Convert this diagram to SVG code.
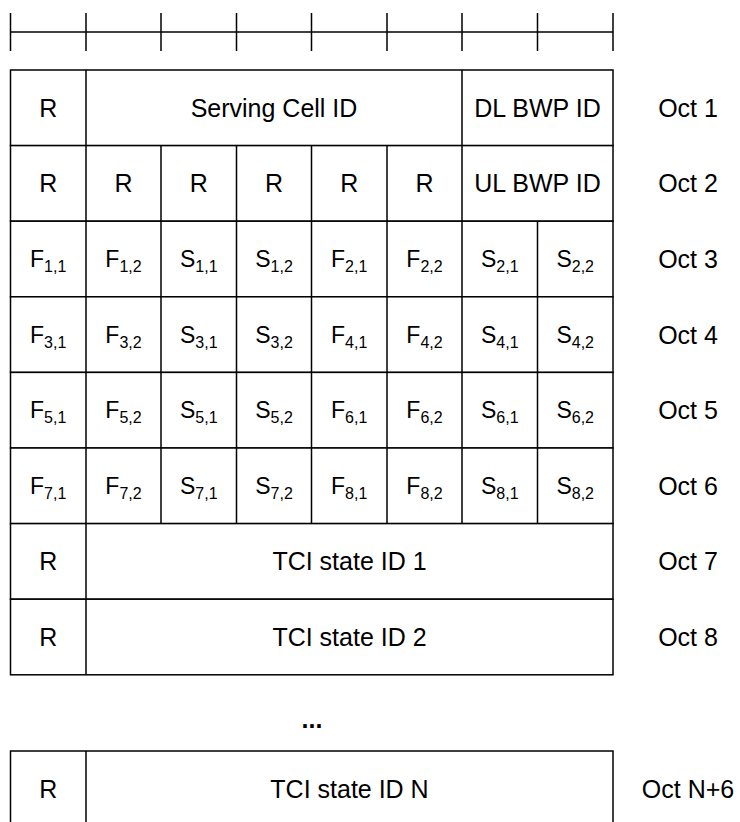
<svg xmlns="http://www.w3.org/2000/svg" width="740" height="822" viewBox="0 0 740 822">
<style>
.ln{stroke:#000;stroke-width:1.5;fill:none}
.bx{stroke:#000;stroke-width:1.5;fill:#fff}
text{font-family:"Liberation Sans",Arial,sans-serif;font-size:25px;fill:#000;text-anchor:middle}
.f{font-size:23px}
.s{font-size:16px}
.dots{font-weight:bold}
</style>
<rect width="740" height="822" fill="#fff"/>
<g id="ruler">
<line class="ln" x1="10.5" y1="32" x2="613" y2="32"/>
<path class="ln" d="M10.5 13V51M86 13V51M161 13V51M236.5 13V51M311.5 13V51M387 13V51M462 13V51M537.5 13V51M613 13V51"/>
</g>
<g id="oct1">
<rect class="bx" x="10.5" y="70" width="602.5" height="75.6"/>
<path class="ln" d="M86 70V145.6M462 70V145.6"/>
<text x="48.2" y="116.8">R</text>
<text x="274" y="116.8">Serving Cell ID</text>
<text x="537.5" y="116.8">DL BWP ID</text>
<text x="688" y="116.8">Oct 1</text>
</g>
<g id="oct2">
<rect class="bx" x="10.5" y="145.6" width="602.5" height="75.6"/>
<path class="ln" d="M86 145.6V221.2M161 145.6V221.2M236.5 145.6V221.2M311.5 145.6V221.2M387 145.6V221.2M462 145.6V221.2"/>
<text x="48.2" y="192.4">R</text>
<text x="123.5" y="192.4">R</text>
<text x="198.8" y="192.4">R</text>
<text x="274" y="192.4">R</text>
<text x="349.2" y="192.4">R</text>
<text x="424.5" y="192.4">R</text>
<text x="537.5" y="192.4">UL BWP ID</text>
<text x="688" y="192.4">Oct 2</text>
</g>
<g id="oct3">
<rect class="bx" x="10.5" y="221.2" width="602.5" height="75.6"/>
<path class="ln" d="M86 221.2V296.8M161 221.2V296.8M236.5 221.2V296.8M311.5 221.2V296.8M387 221.2V296.8M462 221.2V296.8M537.5 221.2V296.8"/>
<text class="f" x="48.2" y="267.2">F<tspan class="s" dy="5">1,1</tspan></text>
<text class="f" x="123.5" y="267.2">F<tspan class="s" dy="5">1,2</tspan></text>
<text class="f" x="198.8" y="267.2">S<tspan class="s" dy="5">1,1</tspan></text>
<text class="f" x="274" y="267.2">S<tspan class="s" dy="5">1,2</tspan></text>
<text class="f" x="349.2" y="267.2">F<tspan class="s" dy="5">2,1</tspan></text>
<text class="f" x="424.5" y="267.2">F<tspan class="s" dy="5">2,2</tspan></text>
<text class="f" x="499.8" y="267.2">S<tspan class="s" dy="5">2,1</tspan></text>
<text class="f" x="575.2" y="267.2">S<tspan class="s" dy="5">2,2</tspan></text>
<text x="688" y="268">Oct 3</text>
</g>
<g id="oct4">
<rect class="bx" x="10.5" y="296.8" width="602.5" height="75.6"/>
<path class="ln" d="M86 296.8V372.4M161 296.8V372.4M236.5 296.8V372.4M311.5 296.8V372.4M387 296.8V372.4M462 296.8V372.4M537.5 296.8V372.4"/>
<text class="f" x="48.2" y="342.8">F<tspan class="s" dy="5">3,1</tspan></text>
<text class="f" x="123.5" y="342.8">F<tspan class="s" dy="5">3,2</tspan></text>
<text class="f" x="198.8" y="342.8">S<tspan class="s" dy="5">3,1</tspan></text>
<text class="f" x="274" y="342.8">S<tspan class="s" dy="5">3,2</tspan></text>
<text class="f" x="349.2" y="342.8">F<tspan class="s" dy="5">4,1</tspan></text>
<text class="f" x="424.5" y="342.8">F<tspan class="s" dy="5">4,2</tspan></text>
<text class="f" x="499.8" y="342.8">S<tspan class="s" dy="5">4,1</tspan></text>
<text class="f" x="575.2" y="342.8">S<tspan class="s" dy="5">4,2</tspan></text>
<text x="688" y="343.6">Oct 4</text>
</g>
<g id="oct5">
<rect class="bx" x="10.5" y="372.4" width="602.5" height="75.6"/>
<path class="ln" d="M86 372.4V448M161 372.4V448M236.5 372.4V448M311.5 372.4V448M387 372.4V448M462 372.4V448M537.5 372.4V448"/>
<text class="f" x="48.2" y="418.4">F<tspan class="s" dy="5">5,1</tspan></text>
<text class="f" x="123.5" y="418.4">F<tspan class="s" dy="5">5,2</tspan></text>
<text class="f" x="198.8" y="418.4">S<tspan class="s" dy="5">5,1</tspan></text>
<text class="f" x="274" y="418.4">S<tspan class="s" dy="5">5,2</tspan></text>
<text class="f" x="349.2" y="418.4">F<tspan class="s" dy="5">6,1</tspan></text>
<text class="f" x="424.5" y="418.4">F<tspan class="s" dy="5">6,2</tspan></text>
<text class="f" x="499.8" y="418.4">S<tspan class="s" dy="5">6,1</tspan></text>
<text class="f" x="575.2" y="418.4">S<tspan class="s" dy="5">6,2</tspan></text>
<text x="688" y="419.2">Oct 5</text>
</g>
<g id="oct6">
<rect class="bx" x="10.5" y="448" width="602.5" height="75.6"/>
<path class="ln" d="M86 448V523.6M161 448V523.6M236.5 448V523.6M311.5 448V523.6M387 448V523.6M462 448V523.6M537.5 448V523.6"/>
<text class="f" x="48.2" y="494">F<tspan class="s" dy="5">7,1</tspan></text>
<text class="f" x="123.5" y="494">F<tspan class="s" dy="5">7,2</tspan></text>
<text class="f" x="198.8" y="494">S<tspan class="s" dy="5">7,1</tspan></text>
<text class="f" x="274" y="494">S<tspan class="s" dy="5">7,2</tspan></text>
<text class="f" x="349.2" y="494">F<tspan class="s" dy="5">8,1</tspan></text>
<text class="f" x="424.5" y="494">F<tspan class="s" dy="5">8,2</tspan></text>
<text class="f" x="499.8" y="494">S<tspan class="s" dy="5">8,1</tspan></text>
<text class="f" x="575.2" y="494">S<tspan class="s" dy="5">8,2</tspan></text>
<text x="688" y="494.8">Oct 6</text>
</g>
<g id="oct7">
<rect class="bx" x="10.5" y="523.6" width="602.5" height="75.6"/>
<path class="ln" d="M86 523.6V599.2"/>
<text x="48.2" y="570.4">R</text>
<text x="349.5" y="570.4">TCI state ID 1</text>
<text x="688" y="570.4">Oct 7</text>
</g>
<g id="oct8">
<rect class="bx" x="10.5" y="599.2" width="602.5" height="75.6"/>
<path class="ln" d="M86 599.2V674.8"/>
<text x="48.2" y="646">R</text>
<text x="349.5" y="646">TCI state ID 2</text>
<text x="688" y="646">Oct 8</text>
</g>
<text class="dots" x="312" y="728">...</text>
<g id="octN">
<rect class="bx" x="10.5" y="751" width="602.5" height="75.6"/>
<path class="ln" d="M86 751V826.6"/>
<text x="48.2" y="797.8">R</text>
<text x="349.5" y="797.8">TCI state ID N</text>
<text x="688" y="797.8">Oct N+6</text>
</g>
</svg>
